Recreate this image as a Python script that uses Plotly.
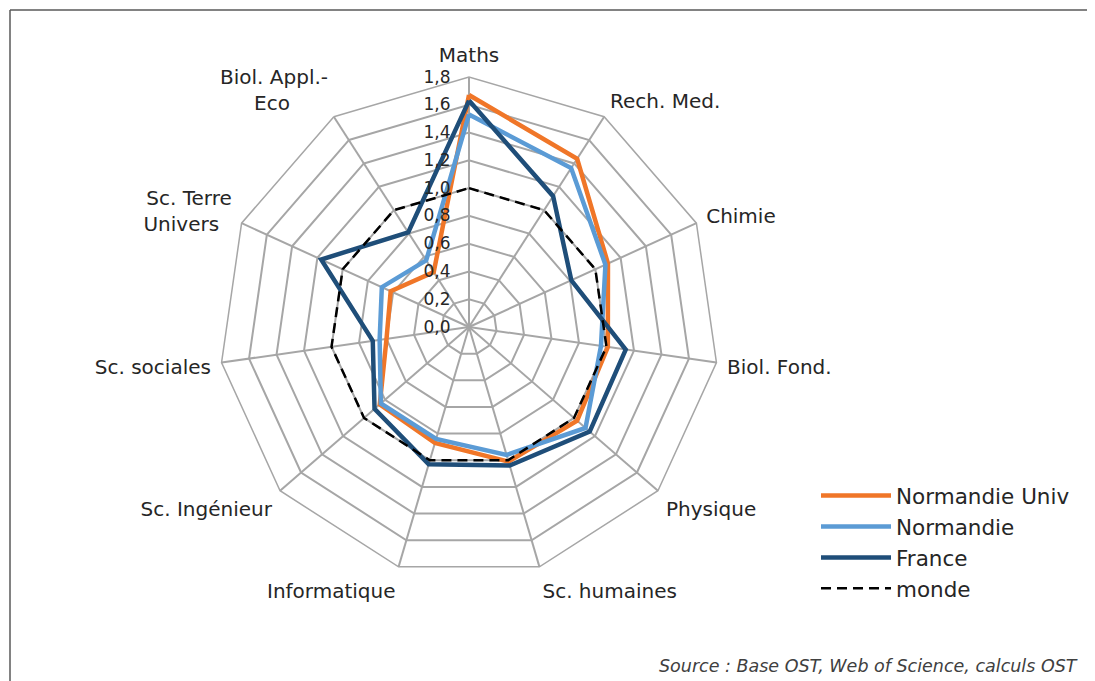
import plotly.graph_objects as go

NB = "\u00a0"
categories = ["Maths", "Rech. Med.", "Chimie", "Biol. Fond.", "Physique", "Sc. humaines",
              "Informatique", "Sc. Ingénieur", "Sc. sociales",
              "Sc. Terre<br>Univers" + NB * 2,
              "Biol. Appl.-<br>Eco" + NB * 6]
normandie_univ = [1.67, 1.44, 1.10, 1.01, 1.03, 1.01, 0.87, 0.85, 0.60, 0.62, 0.47]
normandie = [1.53, 1.36, 1.08, 0.96, 1.11, 0.96, 0.84, 0.84, 0.65, 0.69, 0.57]
france = [1.63, 1.12, 0.81, 1.14, 1.15, 1.04, 1.03, 0.90, 0.70, 1.17, 0.81]
monde = [1.0] * 11
radial_ticks = [0.0, 0.2, 0.4, 0.6, 0.8, 1.0, 1.2, 1.4, 1.6, 1.8]

# page body has an 8px margin: work in reference pixel coords and shift
OFF = 8
W, H = 1095 - OFF, 681 - OFF
FONT = "DejaVu Sans"
TXT = "#262626"

def px(x):
    return (x - OFF) / W

def py(y):
    return 1 - (y - OFF) / H

def closed(v):
    return list(v) + [v[0]]

theta = closed(categories)

fig = go.Figure()
series = [
    ("Normandie Univ", normandie_univ, "#F07628", "solid", 4.5),
    ("Normandie", normandie, "#5B9BD5", "solid", 4.5),
    ("France", france, "#1F4E79", "solid", 4.5),
    ("monde", monde, "#000000", "10px,6px", 2.5),
]
for name, vals, col, dash, w in series:
    fig.add_trace(go.Scatterpolar(
        r=closed(vals), theta=theta, name=name, mode="lines",
        line=dict(color=col, width=w, dash=dash)))

cx, cy, R = 469, 327, 250
fig.update_layout(
    width=W, height=H,
    margin=dict(l=0, r=0, t=0, b=0),
    paper_bgcolor="white", plot_bgcolor="white",
    separators=", ",
    font=dict(family=FONT, color=TXT, size=17),
    showlegend=True,
    legend=dict(x=px(816), y=py(475), xanchor="left", yanchor="top",
                font=dict(size=21.5, color=TXT, family=FONT),
                bgcolor="rgba(0,0,0,0)", tracegroupgap=0, itemwidth=70),
    polar=dict(
        domain=dict(x=[px(cx - R), px(cx + R)], y=[py(cy + R), py(cy - R)]),
        bgcolor="white",
        gridshape="linear",
        angularaxis=dict(direction="clockwise", rotation=90,
                         gridcolor="#A6A6A6", gridwidth=1.5,
                         linecolor="#A6A6A6", linewidth=1.5,
                         ticks="outside", ticklen=6, tickcolor="rgba(0,0,0,0)",
                         tickfont=dict(size=20, color=TXT, family=FONT)),
        radialaxis=dict(range=[0, 1.8], tickvals=radial_ticks, tickformat=".1f",
                        angle=90, tickangle=90, side="counterclockwise",
                        gridcolor="#A6A6A6", gridwidth=1.5,
                        showline=False, ticks="outside", ticklen=12,
                        tickcolor="rgba(0,0,0,0)",
                        tickfont=dict(size=17, color=TXT, family=FONT)),
    ),
    annotations=[dict(text="<i>Source : Base OST, Web of Science, calculs OST</i>",
                      x=px(1080), y=py(666), xref="paper", yref="paper",
                      xanchor="right", yanchor="middle", showarrow=False,
                      font=dict(size=17.5, color="#404040", family=FONT))],
    shapes=[
        dict(type="line", xref="paper", yref="paper", x0=px(10), x1=1.0, y0=py(10), y1=py(10),
             line=dict(color="#595959", width=1.5)),
        dict(type="line", xref="paper", yref="paper", x0=px(10), x1=px(10), y0=py(10), y1=0,
             line=dict(color="#595959", width=1.5)),
    ],
)
fig.write_html("out.html")
